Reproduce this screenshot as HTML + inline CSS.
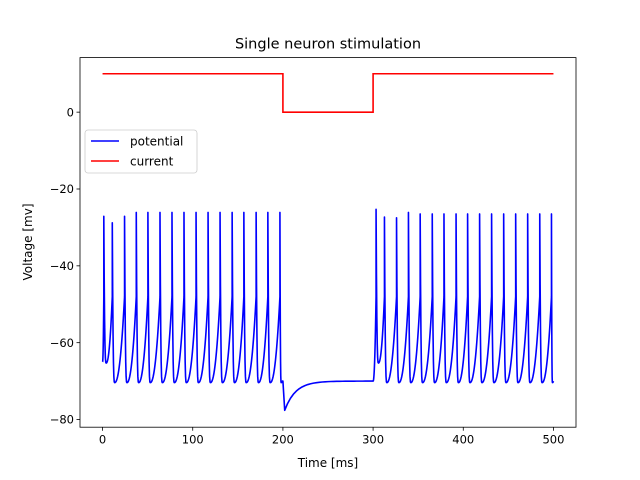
<!DOCTYPE html>
<html><head><meta charset="utf-8"><style>
body{margin:0;background:#fff}
svg{display:block;font-family:"DejaVu Sans","Liberation Sans",sans-serif}
</style></head><body>
<svg id="chart" width="640" height="480" viewBox="0 0 640 480">
<rect width="640" height="480" fill="#fff"/>
<text x="328" y="48.5" text-anchor="middle" font-size="14.5" fill="#000">Single neuron stimulation</text>
<g id="plot"></g>
<text x="328" y="467" text-anchor="middle" font-size="12">Time [ms]</text>
<text transform="translate(32,242) rotate(-90)" text-anchor="middle" font-size="12">Voltage [mv]</text>
</svg>
<script>
const spikeTimes1 = [1.4,10.8,24.4,37.4,50.3,63.7,77,90.3,103.7,117,130.3,143.7,156.7,170.3,183.3,196.7];
const spikePeaks1 = [-27.1,-28.8,-27.1,-26.1,-26.1,-26.1,-26.1,-26.1,-26.1,-26.1,-26.1,-26.1,-26.1,-26.1,-26.1,-26.1];
const spikeTimes2 = [303.3,312.6,326,339.2,352.2,365.6,378.6,392,404.8,418.1,431.4,444.8,458.1,471.4,484.8,497.8];
const spikePeaks2 = [-25.3,-27.3,-27.5,-26.1,-26.5,-26.5,-26.5,-26.5,-26.5,-26.5,-26.5,-26.5,-26.5,-26.5,-26.5,-26.5];
const troughFirst = -65.3, troughRest = -70.4, restV = -70, startV = -65, dipV = -77.6;
const currentTimes = [0,200,200,300,300,500];
const currentValues = [10,10,0,0,10,10];
const xTicks = [0,100,200,300,400,500];
const yTicks = [-80,-60,-40,-20,0];

const L=80,R=576,T=57.6,B=427.2;
const xMin=-25,xMax=525,yMin=-82.0,yMax=14.2;
const sx=t=>L+(t-xMin)/(xMax-xMin)*(R-L);
const sy=v=>B-(v-yMin)/(yMax-yMin)*(B-T);
const NS="http://www.w3.org/2000/svg";
const plot=document.getElementById('plot');
function mk(tag,attrs,parent){const e=document.createElementNS(NS,tag);for(const k in attrs)e.setAttribute(k,attrs[k]);(parent||plot).appendChild(e);return e;}

function burst(times,peaks,t0,v0,tEnd,vEnd,pts){
  let prevT=t0, prevV=v0;
  for(let i=0;i<times.length;i++){
    const ts=times[i], thr=-48;
    const n=24;
    for(let k=1;k<=n;k++){const s=k/n;const t=prevT+(ts-prevT)*s;const v=prevV+(thr-prevV)*Math.pow(s,2.2);pts.push([t,v]);}
    pts.push([ts,peaks[i]]);
    const tr = i===0 ? troughFirst : troughRest;
    const nextT = i+1<times.length ? times[i+1] : tEnd;
    const tt=Math.min(ts+2.6,(ts+nextT)/2);
    for(let k=1;k<=6;k++){const s=k/6;pts.push([ts+(tt-ts)*s, peaks[i]+(tr-peaks[i])*(1-Math.pow(1-s,3))]);}
    prevT=tt; prevV=tr;
  }
  const n=10;
  for(let k=1;k<=n;k++){const s=k/n;pts.push([prevT+(tEnd-prevT)*s,prevV+(vEnd-prevV)*s*s]);}
}
const vp=[[0,startV]];
burst(spikeTimes1,spikePeaks1,0,startV,199.5,restV,vp);
vp.push([200,restV]);vp.push([202,dipV]);
for(let k=1;k<=30;k++){const t=202+k*3.2;vp.push([t,restV+(dipV-restV)*Math.exp(-(t-202)/12)]);}
vp.push([300,restV]);
burst(spikeTimes2,spikePeaks2,300,restV,500,restV,vp);

mk('rect',{x:L,y:T,width:R-L,height:B-T,fill:'none',stroke:'#000','stroke-width':0.8,});
xTicks.forEach(t=>{
  const l=mk('line',{x1:sx(t),x2:sx(t),y1:B,y2:B+3.5,stroke:'#000','stroke-width':0.8});
  
  
  const tx=mk('text',{x:sx(t),y:B+16.5,'text-anchor':'middle','font-size':'11.5'});
  tx.textContent=t;
  
  
});
yTicks.forEach(v=>{
  const l=mk('line',{x1:L-3.5,x2:L,y1:sy(v),y2:sy(v),stroke:'#000','stroke-width':0.8});
  
  
  const tx=mk('text',{x:L-6,y:sy(v)+4.2,'text-anchor':'end','font-size':'11.5'});
  tx.textContent=(v<0?'\u2212'+(-v):v);
  
  
});

const pot=mk('path',{d:'M'+vp.map(p=>sx(p[0]).toFixed(2)+','+sy(p[1]).toFixed(2)).join('L'),fill:'none',stroke:'#0000ff','stroke-width':1.6,'stroke-linejoin':'round'});


const cur=mk('path',{d:'M'+currentTimes.map((t,i)=>sx(t).toFixed(2)+','+sy(currentValues[i]).toFixed(2)).join('L'),fill:'none',stroke:'#ff0000','stroke-width':1.6});



const lg=mk('g',{});


mk('rect',{x:85,y:130,width:112,height:43,rx:3,fill:'#fff','fill-opacity':0.8,stroke:'#ccc','stroke-width':0.8},lg);
[['potential','#0000ff',141],['current','#ff0000',161]].forEach(e=>{
  const g=mk('g',{},lg);
  
  
  mk('line',{x1:91,x2:119,y1:e[2],y2:e[2],stroke:e[1],'stroke-width':1.6},g);
  const t=mk('text',{x:130,y:e[2]+4.3,'font-size':'12'},g);
  t.textContent=e[0];
});
</script>
</body></html>
